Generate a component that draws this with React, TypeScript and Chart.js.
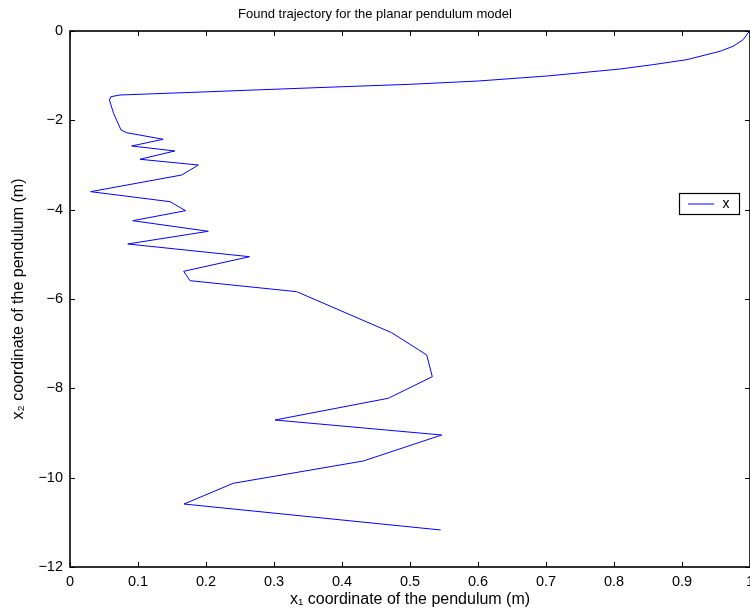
import React, { useEffect, useRef } from 'react';
import { Chart, registerables } from 'chart.js';

Chart.register(...registerables);

const chartTitle = 'Found trajectory for the planar pendulum model';
const xAxisTitle = 'x\u2081 coordinate of the pendulum (m)';
const yAxisTitle = 'x\u2082 coordinate of the pendulum (m)';
const seriesLabel = 'x';

// x1 (horizontal) and x2 (vertical) coordinates of the trajectory
const x1Values = [
  1.0, 0.997, 0.99, 0.975, 0.956, 0.907, 0.857, 0.809, 0.702, 0.601, 0.501, 0.401, 0.338, 0.272, 0.206,
  0.0735, 0.06, 0.058, 0.064, 0.075, 0.0834, 0.137, 0.0907, 0.1541, 0.1029, 0.1887, 0.1643,
  0.0304, 0.147, 0.1701, 0.0922, 0.2034, 0.0849, 0.264, 0.1672, 0.1765, 0.3334, 0.473,
  0.5246, 0.5328, 0.4681, 0.3015, 0.5466, 0.4313, 0.2401, 0.1676, 0.5451,
];
const x2Values = [
  -0.005, -0.045, -0.195, -0.343, -0.454, -0.642, -0.754, -0.851, -1.007, -1.119, -1.193, -1.247, -1.283, -1.32,
  -1.359, -1.433, -1.471, -1.545, -1.842, -2.216, -2.277, -2.424, -2.574, -2.686, -2.872, -3.0,
  -3.224, -3.597, -3.821, -4.023, -4.247, -4.484, -4.768, -5.053, -5.38, -5.59, -5.836, -6.754,
  -7.253, -7.739, -8.223, -8.709, -9.045, -9.627, -10.126, -10.59, -11.171,
];

const xTickValues = [0, 0.1, 0.2, 0.3, 0.4, 0.5, 0.6, 0.7, 0.8, 0.9, 1];
const yTickValues = [-12, -10, -8, -6, -4, -2, 0];

const FONT = "'Liberation Sans', Arial, Helvetica, sans-serif";

const boxTicksPlugin = {
  id: 'boxTicks',
  afterDatasetsDraw(chart: any) {
    const { ctx, chartArea } = chart;
    const { left, right, top, bottom } = chartArea;
    const xs = chart.scales.x;
    const ys = chart.scales.y;
    const tl = 5;
    ctx.save();
    ctx.strokeStyle = '#000';
    ctx.lineWidth = 1;
    ctx.beginPath();
    xTickValues.forEach((v) => {
      const px = Math.round(xs.getPixelForValue(v)) + 0.5;
      ctx.moveTo(px, bottom);
      ctx.lineTo(px, bottom - tl);
      ctx.moveTo(px, top);
      ctx.lineTo(px, top + tl);
    });
    yTickValues.forEach((v) => {
      const py = Math.round(ys.getPixelForValue(v)) + 0.5;
      ctx.moveTo(left, py);
      ctx.lineTo(left + tl, py);
      ctx.moveTo(right, py);
      ctx.lineTo(right - tl, py);
    });
    ctx.stroke();
    ctx.lineWidth = 1.6;
    ctx.strokeRect(left, top, right - left, bottom - top);
    ctx.restore();
  },
};

const legendPlugin = {
  id: 'boxLegend',
  afterDraw(chart: any) {
    const { ctx, chartArea } = chart;
    const ds = chart.data.datasets[0];
    const bx = chartArea.right - 71;
    const by = chartArea.top + 162;
    const bw = 60;
    const bh = 21;
    ctx.save();
    ctx.fillStyle = '#fff';
    ctx.fillRect(bx, by, bw, bh);
    ctx.strokeStyle = '#000';
    ctx.lineWidth = 1.2;
    ctx.strokeRect(bx + 0.5, by + 0.5, bw, bh);
    ctx.strokeStyle = ds.borderColor;
    ctx.lineWidth = 1;
    ctx.beginPath();
    ctx.moveTo(bx + 9, by + 11);
    ctx.lineTo(bx + 35, by + 11);
    ctx.stroke();
    ctx.fillStyle = '#000';
    ctx.font = `14px ${FONT}`;
    ctx.textAlign = 'center';
    ctx.textBaseline = 'middle';
    ctx.fillText(ds.label, bx + 47, by + 11);
    ctx.restore();
  },
};

export default function App() {
  const canvasRef = useRef<HTMLCanvasElement | null>(null);

  useEffect(() => {
    if (!canvasRef.current) return;
    Chart.defaults.font.family = FONT;
    Chart.defaults.color = '#000';
    const points = x1Values.map((x, i) => ({ x, y: x2Values[i] }));
    const chart = new Chart(canvasRef.current, {
      type: 'scatter',
      data: {
        datasets: [
          {
            label: seriesLabel,
            data: points,
            showLine: true,
            borderColor: '#0000ff',
            backgroundColor: '#0000ff',
            borderWidth: 1,
            pointRadius: 0,
            tension: 0,
          },
        ],
      },
      options: {
        animation: false,
        responsive: false,
        devicePixelRatio: 1,
        layout: { padding: { left: 0, right: 0, top: 0, bottom: 0 } },
        plugins: {
          legend: { display: false },
          tooltip: { enabled: false },
          title: {
            display: true,
            text: chartTitle,
            color: '#000',
            font: { size: 13, weight: 'normal', family: FONT, lineHeight: 1.2 },
            padding: { top: 7, bottom: 8.4 },
          },
        },
        scales: {
          x: {
            type: 'linear',
            min: 0,
            max: 1,
            grid: { display: false, drawTicks: false },
            border: { display: false },
            afterBuildTicks: (scale: any) => {
              scale.ticks = xTickValues.map((v) => ({ value: v }));
            },
            ticks: {
              padding: 6,
              font: { size: 14.5, family: FONT },
              color: '#000',
              maxRotation: 0,
              autoSkip: false,
              callback: (v: any) => String(Math.round(Number(v) * 10) / 10),
            },
            title: {
              display: true,
              text: xAxisTitle,
              color: '#000',
              font: { size: 16, family: FONT, lineHeight: 1.2 },
              padding: { top: 0, bottom: 2.4 },
            },
            afterFit: (scale: any) => {
              scale.height = 45;
              scale.paddingLeft = 0;
              scale.paddingRight = 0;
            },
          },
          y: {
            type: 'linear',
            min: -12,
            max: 0,
            grid: { display: false, drawTicks: false },
            border: { display: false },
            afterBuildTicks: (scale: any) => {
              scale.ticks = yTickValues.map((v) => ({ value: v }));
            },
            ticks: {
              padding: 7,
              font: { size: 14.5, family: FONT },
              color: '#000',
              autoSkip: false,
              callback: (v: any) => {
                const n = Number(v);
                return n === 0 ? '0' : (n < 0 ? '\u2212' : '') + Math.abs(n);
              },
            },
            title: {
              display: true,
              text: yAxisTitle,
              color: '#000',
              font: { size: 16, family: FONT, lineHeight: 1.2 },
              padding: { top: 9, bottom: 0 },
            },
            afterFit: (scale: any) => {
              scale.width = 70;
              scale.paddingTop = 0;
              scale.paddingBottom = 0;
            },
          },
        },
      },
      plugins: [boxTicksPlugin, legendPlugin],
    } as any);
    return () => chart.destroy();
  }, []);

  return (
    <div style={{ position: 'fixed', left: 0, top: 0, width: 750, height: 612, background: '#fff' }}>
      <canvas ref={canvasRef} width={750} height={612} style={{ display: 'block' }} />
    </div>
  );
}
